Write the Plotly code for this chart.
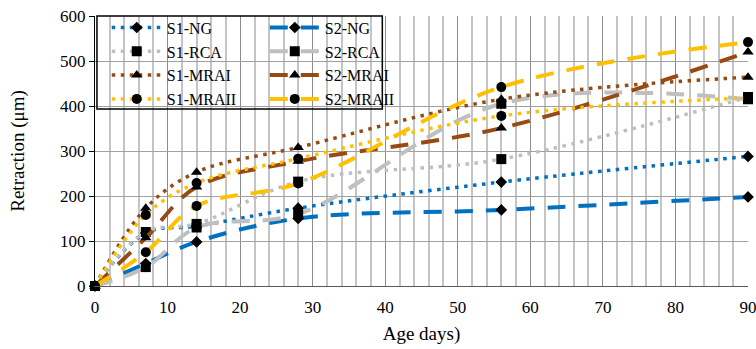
import plotly.graph_objects as go

days = [0, 7, 14, 28, 56, 90]
names = ["S1-NG", "S2-NG", "S1-RCA", "S2-RCA", "S1-MRAI", "S2-MRAI", "S1-MRAII", "S2-MRAII"]
s1_ng = [0, 118, 133, 173, 231, 288]
s2_ng = [0, 50, 98, 150, 169, 198]
s1_rca = [0, 120, 138, 232, 282, 420]
s2_rca = [0, 42, 130, 160, 405, 415]
s1_mrai = [0, 173, 253, 308, 415, 464]
s2_mrai = [0, 107, 220, 277, 351, 520]
s1_mraii = [0, 158, 229, 283, 378, 418]
s2_mraii = [0, 75, 178, 228, 442, 542]
values = [s1_ng, s2_ng, s1_rca, s2_rca, s1_mrai, s2_mrai, s1_mraii, s2_mraii]
colors = ["#0070C0", "#0070C0", "#BFBFBF", "#BFBFBF", "#974B12", "#974B12", "#FFC000", "#FFC000"]
symbols = ["diamond", "diamond", "square", "square", "triangle-up", "triangle-up", "circle", "circle"]
sizes = [9, 9, 10, 10, 10, 10, 10, 10]

fig = go.Figure()
for i, (n, v) in enumerate(zip(names, values)):
    s1 = n.startswith("S1")
    fig.add_trace(go.Scatter(
        x=days, y=v, name=n, mode="lines+markers",
        line=dict(color=colors[i], width=3.5 if s1 else 4, dash="3.5px,5.5px" if s1 else "18px,13px",
                  shape="spline", smoothing=1.0),
        marker=dict(symbol=symbols[i], size=sizes[i], color="black"),
        cliponaxis=False,
        legend="legend" if s1 else "legend2",
    ))

font_family = "Times New Roman, Liberation Serif, DejaVu Serif, serif"
leg_common = dict(bgcolor="rgba(0,0,0,0)", borderwidth=0, font=dict(family=font_family, size=16, color="black"),
                  yanchor="top", xanchor="left", itemwidth=50, tracegroupgap=0)
fig.update_layout(
    width=756, height=349,
    margin=dict(l=95, r=8, t=16, b=63),
    paper_bgcolor="white", plot_bgcolor="white",
    font=dict(family=font_family, size=17, color="black"),
    legend=dict(x=0.018, y=1.02, **leg_common),
    legend2=dict(x=0.26, y=1.02, **leg_common),
    xaxis=dict(range=[0, 90], dtick=10, tick0=0, showgrid=True, gridcolor="#8C8C8C", gridwidth=1,
               minor=dict(dtick=2, showgrid=True, gridcolor="#C4C4C4", gridwidth=1.5),
               showline=True, linecolor="#595959", linewidth=1, zeroline=False,
               ticks="", ticklabelstandoff=6, ticklabeloverflow="allow", automargin=False,
               tickfont=dict(family=font_family, size=17),
               title=dict(text="Age days)", font=dict(family=font_family, size=19), standoff=10)),
    yaxis=dict(range=[0, 600], dtick=100, showgrid=True, gridcolor="#A0A0A0", gridwidth=1,
               showline=True, linecolor="black", linewidth=1, zeroline=False, automargin=False,
               ticks="outside", ticklen=5, tickcolor="black",
               tickfont=dict(family=font_family, size=17),
               title=dict(text="Retraction (μm)", font=dict(family=font_family, size=19), standoff=30)),
    shapes=[dict(type="rect", xref="paper", yref="paper", x0=0.003, x1=0.44, y0=0.656, y1=1.0,
                 line=dict(color="black", width=1.5), fillcolor="rgba(0,0,0,0)", layer="above")],
)

fig.write_html("out.html")
